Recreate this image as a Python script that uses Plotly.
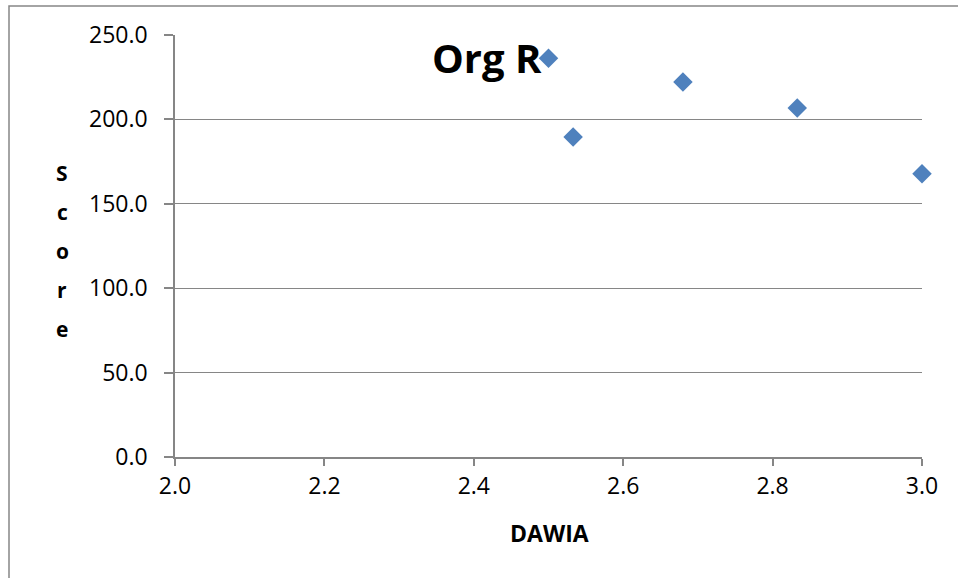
import plotly.graph_objects as go

dawia = [2.5, 2.533, 2.68, 2.833, 3.0]
score = [236.3, 189.6, 222.2, 206.7, 167.8]
x_ticks = [2.0, 2.2, 2.4, 2.6, 2.8, 3.0]
y_ticks = [0, 50, 100, 150, 200, 250]
y_title = "Score"

W, H = 958, 578
L, R, T, B = 175, 36, 35, 121
pw, ph = W - L - R, H - T - B

def px_to_paper_x(px):
    return (px - L) / pw

def px_to_paper_y(py):
    return (H - B - py) / ph

font = "Open Sans, Liberation Sans, sans-serif"

fig = go.Figure()
fig.add_trace(go.Scatter(
    x=dawia, y=score, mode="markers",
    marker=dict(symbol="diamond", size=15, color="#4F81BD",
                line=dict(width=0)),
    cliponaxis=False, showlegend=False,
))

annotations = [
    dict(text="<b>Org R</b>", xref="paper", yref="paper",
         x=px_to_paper_x(487), y=px_to_paper_y(58),
         xanchor="center", yanchor="middle", showarrow=False,
         font=dict(size=40, family=font)),
    dict(text="<b>DAWIA</b>", xref="paper", yref="paper",
         x=px_to_paper_x(549), y=px_to_paper_y(533),
         xanchor="center", yanchor="middle", showarrow=False,
         font=dict(size=23, family=font)),
]
for i, ch in enumerate(y_title):
    annotations.append(dict(
        text=f"<b>{ch}</b>", xref="paper", yref="paper",
        x=px_to_paper_x(62), y=px_to_paper_y(173 + 39 * i),
        xanchor="center", yanchor="middle", showarrow=False,
        font=dict(size=21, family=font)))

fig.update_layout(
    width=W, height=H,
    margin=dict(l=L, r=R, t=T, b=B),
    paper_bgcolor="white", plot_bgcolor="white",
    font=dict(family=font, color="black"),
    xaxis=dict(
        range=[2.0, 3.0], tickvals=x_ticks,
        ticktext=[f"{v:.1f}" for v in x_ticks],
        showgrid=False, zeroline=False,
        showline=True, linecolor="#868686", linewidth=1.5,
        ticks="outside", ticklen=7, tickcolor="#868686", tickwidth=1.5,
        tickfont=dict(size=23), ticklabelstandoff=1,
    ),
    yaxis=dict(
        range=[0, 250], tickvals=y_ticks,
        ticktext=[f"{v:.1f}" for v in y_ticks],
        showgrid=True, gridcolor="#868686", gridwidth=1.3,
        zeroline=False,
        showline=True, linecolor="#868686", linewidth=1.5,
        ticks="outside", ticklen=9, tickcolor="#868686", tickwidth=1.5,
        tickfont=dict(size=23), ticklabelstandoff=12,
    ),
    annotations=annotations,
    shapes=[
        dict(type="rect", xref="paper", yref="paper",
             x0=px_to_paper_x(9), x1=px_to_paper_x(1100),
             y0=px_to_paper_y(700), y1=px_to_paper_y(6),
             line=dict(color="#868686", width=1.5), layer="below"),
    ],
)

fig.write_html("out.html",
               config={"displayModeBar": False},
               post_script="document.body.style.margin='0';")
